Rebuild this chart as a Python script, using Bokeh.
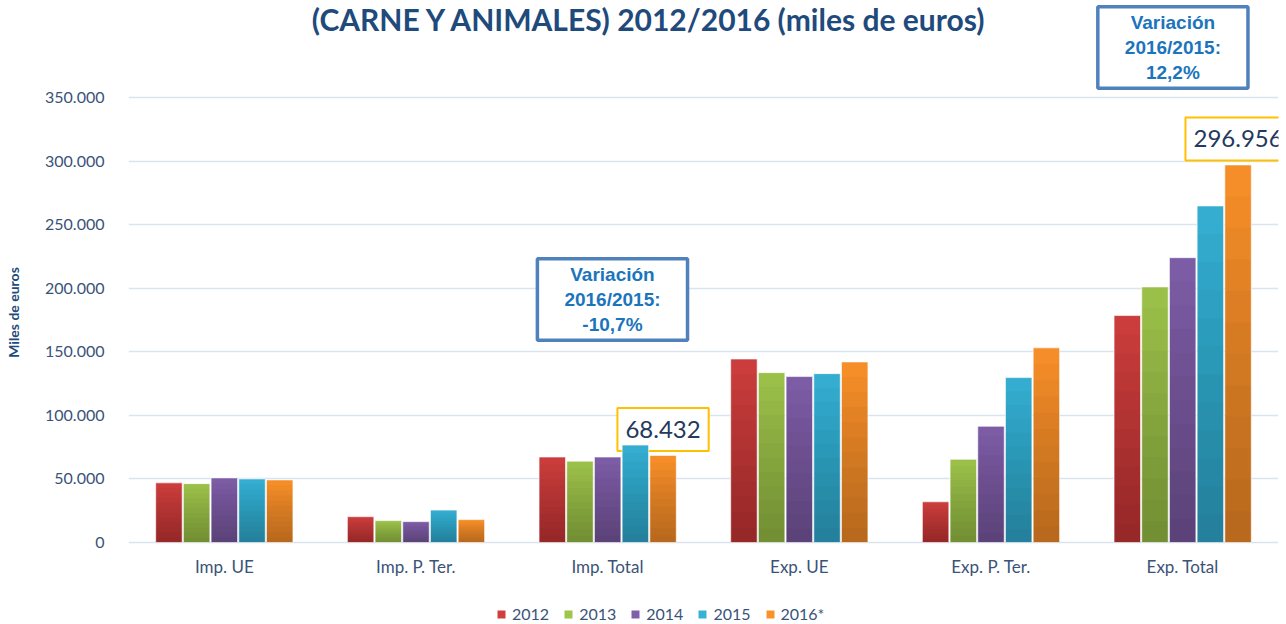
from bokeh.plotting import figure
from bokeh.models import (FactorRange, Range1d, FixedTicker, Label, Legend,
                          LegendItem, ColumnDataSource)
from bokeh.transform import dodge
from bokeh.embed import file_html
from bokeh.resources import INLINE

# ---------------- data ----------------
categories = ["Imp. UE", "Imp. P. Ter.", "Imp. Total", "Exp. UE", "Exp. P. Ter.", "Exp. Total"]
years = ["2012", "2013", "2014", "2015", "2016*"]
v2012 = [46900, 20300, 67200, 144300, 32000, 178500]
v2013 = [46300, 17200, 64000, 133600, 65400, 201000]
v2014 = [50800, 16400, 67200, 130500, 91400, 224000]
v2015 = [50000, 25500, 76600, 132800, 129700, 264700]
v2016 = [49200, 18000, 68432, 142000, 153100, 296956]
y_ticks = [0, 50000, 100000, 150000, 200000, 250000, 300000, 350000]
y_tick_labels = ["0", "50.000", "100.000", "150.000", "200.000", "250.000", "300.000", "350.000"]
title_text = "(CARNE Y ANIMALES) 2012/2016 (miles de euros)"
y_label = "Miles de euros"
variation_texts = ["Variación\n2016/2015:\n-10,7%", "Variación\n2016/2015:\n12,2%"]
highlight_categories = [2, 5]          # Imp. Total, Exp. Total
highlight_texts = ["68.432", "296.956"]

series = [v2012, v2013, v2014, v2015, v2016]
colors = ["#CF3F3E", "#9FC54B", "#7F5FA8", "#36B2D6", "#FB9229"]

# ---------------- figure ----------------
p = figure(x_range=FactorRange(factors=categories, range_padding=0),
           y_range=Range1d(-64500, 426300),
           width=1286, height=624, title=None,
           toolbar_location=None, output_backend="svg",
           min_border_left=128, min_border_right=8,
           min_border_top=0, min_border_bottom=0)
p.outline_line_color = None
p.background_fill_color = "white"

n_shade = 12          # vertical shading layers (darker towards the base)
cols = dict(cat=categories)
for i, s in enumerate(series):
    cols[f"y{i}"] = s
    for k in range(1, n_shade + 1):
        cols[f"y{i}_s{k}"] = [v * k / n_shade for v in s]
src = ColumnDataSource(cols)

pitch = 0.1445
bar_w = 0.138
items = []
for i, yr in enumerate(years):
    x_pos = dodge("cat", (i - 2) * pitch, range=p.x_range)
    r = p.vbar(x=x_pos, top=f"y{i}", width=bar_w, source=src,
               fill_color=colors[i], line_color=None)
    for k in range(1, n_shade + 1):
        p.vbar(x=x_pos, top=f"y{i}_s{k}", width=bar_w, source=src,
               fill_color="black", fill_alpha=0.025, line_color=None)
    p.vbar(x=x_pos, top=f"y{i}", width=bar_w, source=src, fill_alpha=0,
           line_color="white", line_alpha=0.6, line_width=1)
    items.append(LegendItem(label=yr, renderers=[r]))

# axes
p.xgrid.visible = False
p.ygrid.grid_line_color = "#D9E4F1"
p.ygrid.grid_line_width = 1.5
p.ygrid.ticker = FixedTicker(ticks=y_ticks)
p.yaxis.ticker = FixedTicker(ticks=y_ticks)
p.yaxis.major_label_overrides = {t: l for t, l in zip(y_ticks, y_tick_labels)}
for ax in (p.xaxis[0], p.yaxis[0]):
    ax.axis_line_color = None
    ax.major_tick_line_color = None
    ax.minor_tick_line_color = None
    ax.major_label_text_font = "Lato"
    ax.major_label_text_color = "#3A5378"
p.yaxis.major_label_text_font_size = "16px"
p.xaxis.major_label_text_font_size = "17px"
p.xaxis.fixed_location = 0
p.yaxis.major_label_standoff = 18
p.xaxis.major_label_standoff = 8
p.yaxis.axis_label = y_label
p.yaxis.axis_label_text_font = "Lato"
p.yaxis.axis_label_text_font_style = "bold"
p.yaxis.axis_label_text_font_size = "14px"
p.yaxis.axis_label_text_color = "#1F4A7C"
p.yaxis.axis_label_standoff = 20

# title (second line of the original heading)
p.add_layout(Label(x=2.72, y=411800, text=title_text, text_align="center",
                   text_baseline="alphabetic", text_font="Lato",
                   text_font_style="bold", text_font_size="30px",
                   text_color="#1F4A7C"))

# variation boxes
var_pos = [(2.525, 191100), (5.449, 389300)]
for (vx, vy), t in zip(var_pos, variation_texts):
    p.add_layout(Label(x=vx, y=vy, text=t, text_align="center",
                       text_baseline="middle", text_font="Liberation Sans",
                       text_font_style="bold", text_font_size="19px",
                       text_line_height=1.2, text_color="#1B75BC",
                       border_line_color="#4F81BD", border_line_width=3.5,
                       background_fill_color="white", padding=(27, 5)))

# highlighted value boxes above the 2016 bars
for ci, t in zip(highlight_categories, highlight_texts):
    p.add_layout(Label(x=ci + 0.5 + 2 * pitch, y=v2016[ci], y_offset=26, text=t,
                       text_align="center", text_baseline="middle",
                       text_font="Lato", text_font_size="24px",
                       text_color="#23395D", border_line_color="#FFC000",
                       border_line_width=2, background_fill_color="white",
                       padding=(8, 13), level="underlay"))

legend = Legend(items=items, orientation="horizontal", location=(368, 1),
                glyph_width=10, glyph_height=10, label_standoff=6, spacing=14,
                padding=0, margin=0, border_line_alpha=0, background_fill_alpha=0,
                label_text_font="Lato", label_text_font_size="16px",
                label_text_color="#3A5378")
p.add_layout(legend, "center")

open("out.html", "w").write(file_html(p, INLINE))
